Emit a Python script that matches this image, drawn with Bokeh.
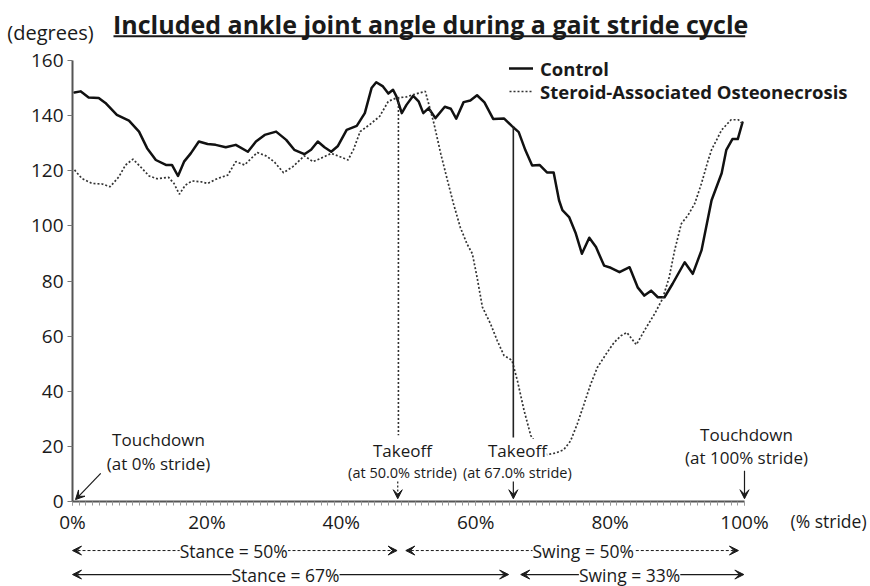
from bokeh.plotting import figure
from bokeh.models import Range1d, FixedTicker, Label, Arrow, VeeHead, Legend, LegendItem
from bokeh.embed import file_html
from bokeh.resources import INLINE

# ---- data ----
stride_control = [0.3, 1.2, 2.4, 3.9, 4.9, 6.6, 8.4, 9.9, 11.1, 12.4, 13.9, 14.8, 15.7, 16.6, 17.6,
                  18.8, 20.1, 21.3, 22.8, 24.3, 26.1, 27.3, 28.6, 30.3, 31.8, 33.0, 34.5, 35.5, 36.5,
                  37.5, 38.5, 39.5, 40.8, 42.3, 43.5, 44.5, 45.2, 46.2, 47.0, 47.7, 48.2, 49.0, 49.7,
                  50.7, 51.5, 52.2, 53.0, 54.0, 55.4, 56.3, 57.1, 58.2, 59.2, 60.2, 61.3, 62.6, 64.2,
                  65.4, 66.4, 67.4, 68.4, 69.5, 70.6, 71.6, 72.4, 72.9, 73.9, 74.9, 75.8, 76.9, 77.9,
                  79.1, 80.1, 81.4, 82.9, 84.1, 85.1, 86.1, 87.1, 88.1, 89.3, 91.1, 92.3, 93.6, 95.1,
                  96.6, 97.3, 98.2, 99.0, 99.7]
angle_control = [148.4, 148.8, 146.6, 146.4, 144.6, 140.3, 138.2, 134.2, 128.2, 123.9, 122.1, 122.1,
                 118.1, 123.3, 126.3, 130.6, 129.7, 129.4, 128.5, 129.4, 126.9, 130.6, 133.0, 134.2,
                 131.2, 127.6, 126.0, 127.6, 130.6, 128.5, 126.9, 129.0, 134.8, 136.3, 140.9, 150.0,
                 152.1, 150.6, 148.0, 149.4, 147.0, 140.9, 143.9, 147.2, 145.2, 140.9, 142.7, 139.1,
                 143.2, 142.5, 138.9, 144.9, 145.5, 147.4, 144.8, 138.8, 139.0, 136.2, 134.0, 127.4,
                 121.9, 122.1, 119.4, 119.4, 109.3, 105.7, 103.2, 97.2, 89.9, 95.7, 92.3, 85.6, 84.8,
                 83.2, 85.0, 77.7, 74.7, 76.5, 74.1, 74.1, 79.0, 86.8, 82.6, 91.1, 109.3, 119.1, 127.6,
                 131.5, 131.5, 137.5]

stride_sao = [0.3, 1.4, 2.9, 4.4, 5.6, 6.9, 7.9, 9.0, 10.1, 11.4, 12.6, 14.3, 15.1, 15.9, 16.8, 17.8,
              19.1, 20.1, 21.6, 23.1, 24.3, 25.6, 26.6, 27.5, 28.8, 30.0, 31.4, 32.8, 34.5, 35.8, 37.3,
              38.5, 39.8, 41.0, 41.8, 42.8, 44.2, 45.7, 47.0, 48.2, 49.7, 50.7, 52.5, 53.0, 53.8, 54.8,
              55.8, 56.7, 57.7, 58.7, 59.5, 60.2, 61.0, 62.2, 63.2, 64.2, 65.4, 66.2, 67.2, 68.2, 69.3,
              70.6, 71.9, 73.1, 74.1, 75.1, 76.1, 77.1, 78.1, 79.4, 80.6, 81.6, 82.5, 83.9, 85.1, 86.6,
              87.8, 88.8, 89.6, 90.6, 91.6, 92.6, 93.6, 94.6, 95.1, 96.6, 98.0, 99.1, 99.7]
angle_sao = [120.3, 117.2, 115.4, 115.2, 114.2, 117.8, 122.1, 124.2, 121.5, 118.1, 117.1, 117.6, 115.4,
             111.5, 114.8, 116.3, 116.0, 115.4, 117.2, 118.4, 123.3, 122.1, 124.5, 126.6, 125.4, 123.3,
             119.3, 121.5, 125.4, 123.3, 124.9, 126.3, 125.1, 123.9, 127.6, 134.2, 136.7, 139.7, 145.2,
             146.4, 146.8, 147.6, 148.8, 144.3, 137.0, 126.2, 116.5, 108.0, 99.5, 93.5, 89.9, 81.4,
             70.5, 64.5, 58.4, 53.0, 51.2, 43.9, 33.0, 23.9, 19.8, 17.0, 17.6, 18.8, 21.9, 28.0, 35.2,
             42.5, 48.6, 53.5, 57.7, 60.1, 61.3, 56.9, 62.0, 68.0, 73.5, 81.4, 91.1, 100.8, 103.9,
             108.1, 115.4, 123.9, 127.6, 134.8, 138.5, 138.5, 137.0]

takeoff_stride = [48.5, 65.6]       # positions of the two takeoff markers (steroid, control)
takeoff_angle = [146.4, 136.2]
y_ticks = [0, 20, 40, 60, 80, 100, 120, 140, 160]
x_ticks = [0, 20, 40, 60, 80, 100]
x_tick_labels = ["0%", "20%", "40%", "60%", "80%", "100%"]

FONT = "Open Sans"
TXT = "#1a1a1a"

W, H = 870, 586
# plot area: x 0..100 on px 72..744, y 0..160 on px 501..60
X0, X1, Y0, Y1 = 72, 744, 501, 60
XPX = (X1 - X0) / 100.0
YPX = (Y0 - Y1) / 160.0
x_range = Range1d(-X0 / XPX, 100 + (W - X1) / XPX)
y_range = Range1d(-(H - Y0) / YPX, 160 + Y1 / YPX)

p = figure(width=W, height=H, x_range=x_range, y_range=y_range,
           output_backend="svg", toolbar_location=None,
           min_border=0, min_border_left=0, min_border_right=0, min_border_top=0, min_border_bottom=0)
p.outline_line_color = None
p.xgrid.grid_line_color = None
p.ygrid.grid_line_color = None
p.background_fill_color = "white"
p.border_fill_color = "white"

# axes drawn at the data origin inside the full-canvas frame
p.yaxis.fixed_location = 0
p.yaxis.bounds = (0, 160)
p.yaxis.ticker = FixedTicker(ticks=y_ticks)
p.yaxis.axis_line_width = 2
p.yaxis.axis_line_color = "#555555"
p.yaxis.major_tick_line_color = "#777777"
p.yaxis.major_tick_in = 0
p.yaxis.major_tick_out = 5
p.yaxis.minor_tick_line_color = None
p.yaxis.major_label_text_font = FONT
p.yaxis.major_label_text_font_size = "19px"
p.yaxis.major_label_text_color = TXT
p.yaxis.major_label_standoff = 4

p.xaxis.fixed_location = 0
p.xaxis.bounds = (0, 100)
p.xaxis.ticker = FixedTicker(ticks=x_ticks, minor_ticks=list(range(0, 101)))
p.xaxis.major_label_overrides = {t: lab for t, lab in zip(x_ticks, x_tick_labels)}
p.xaxis.axis_line_width = 2
p.xaxis.axis_line_color = "#555555"
p.xaxis.major_tick_line_color = "#999999"
p.xaxis.minor_tick_line_color = "#999999"
p.xaxis.major_tick_in = 0
p.xaxis.major_tick_out = 4
p.xaxis.minor_tick_in = 0
p.xaxis.minor_tick_out = 4
p.xaxis.major_label_text_font = FONT
p.xaxis.major_label_text_font_size = "19px"
p.xaxis.major_label_text_color = TXT
p.xaxis.major_label_standoff = 3

# series
r_ctrl = p.line(stride_control, angle_control, line_width=2.5, line_color="#111111",
                line_join="round", line_cap="round")
r_sao = p.line(stride_sao, angle_sao, line_width=1.7, line_color="#333333", line_dash="2 2")

# takeoff markers
p.segment(x0=[takeoff_stride[0]], y0=[takeoff_angle[0]], x1=[takeoff_stride[0]], y1=[24],
          line_width=1.6, line_color="#333333", line_dash="2 2")
p.segment(x0=[takeoff_stride[1]], y0=[takeoff_angle[1]], x1=[takeoff_stride[1]], y1=[23.2],
          line_width=1.6, line_color="#222222")


def make_legend(item, bottom):
    lg = Legend(items=[item], location=(509, bottom))
    lg.background_fill_alpha = 0
    lg.border_line_color = None
    lg.padding = 0
    lg.spacing = 0
    lg.margin = 0
    lg.glyph_width = 24
    lg.glyph_height = 18
    lg.label_height = 18
    lg.label_standoff = 7
    lg.label_text_font = FONT
    lg.label_text_font_style = "bold"
    lg.label_text_font_size = "18.5px"
    lg.label_text_color = TXT
    p.add_layout(lg)


make_legend(LegendItem(label="Control", renderers=[r_ctrl]), H - 68 - 12.6)
make_legend(LegendItem(label="Steroid-Associated Osteonecrosis", renderers=[r_sao]), H - 91 - 12.6)


def lab(x, y, text, size="18px", align="center", style="normal", bg=None, baseline="middle"):
    l = Label(x=x, y=y, text=text, text_align=align, text_baseline=baseline,
              text_font=FONT, text_font_size=size, text_color=TXT, text_font_style=style)
    if bg:
        l.background_fill_color = bg
    p.add_layout(l)


def arrow(x0, y0, x1, y1, dash="solid", start=False, end=True, size=9, width=1.2):
    a = Arrow(x_start=x0, y_start=y0, x_end=x1, y_end=y1, line_width=width, line_color=TXT,
              line_dash=dash,
              start=VeeHead(size=size, fill_color=TXT, line_color=TXT, line_width=1) if start else None,
              end=VeeHead(size=size, fill_color=TXT, line_color=TXT, line_width=1) if end else None)
    p.add_layout(a)


# title and axis captions
lab(53.3, 173.4, "Included ankle joint angle during a gait stride cycle", size="25px", style="bold")
arrow(6.1, 168.8, 100.1, 168.8, end=False, width=2)
lab(-9.7, 170.2, "(degrees)", size="20px", align="left")
lab(106.85, -7.0, "(% stride)", size="17.5px", align="left")

# event annotations
lab(12.8, 22.5, "Touchdown", size="17px")
lab(12.8, 13.8, "(at 0% stride)", size="17px")
arrow(4.2, 10.2, 0.45, 0.7)

lab(49.1, 18.5, "Takeoff", size="17px")
lab(49.1, 10.5, "(at 50.0% stride)", size="14.5px")
arrow(48.4, 7.3, 48.4, 1.0, dash="2 2")

lab(66.2, 18.5, "Takeoff", size="17px", bg="white")
lab(66.2, 10.5, "(at 67.0% stride)", size="14.5px")
arrow(65.6, 7.3, 65.6, 1.0)

lab(100.3, 24.4, "Touchdown", size="17px")
lab(100.3, 15.8, "(at 100% stride)", size="17px")
arrow(100.0, 11.2, 100.0, 1.0)

# stance / swing spans below the axis
row1, row2 = -17.8, -26.5
arrow(0.0, row1, 48.3, row1, dash="3 2", start=True, width=1)
lab(24.0, row1, "Stance = 50%", size="17.5px", bg="white")
arrow(49.6, row1, 99.1, row1, dash="3 2", start=True, width=1)
lab(76.0, row1, "Swing = 50%", size="17.5px", bg="white")
arrow(0.0, row2, 64.9, row2, start=True, width=1.2)
lab(31.7, row2, "Stance = 67%", size="17.5px", bg="white")
arrow(66.7, row2, 99.9, row2, start=True, width=1.2)
lab(82.9, row2, "Swing = 33%", size="17.5px", bg="white")

open("out.html", "w").write(file_html(p, INLINE))
